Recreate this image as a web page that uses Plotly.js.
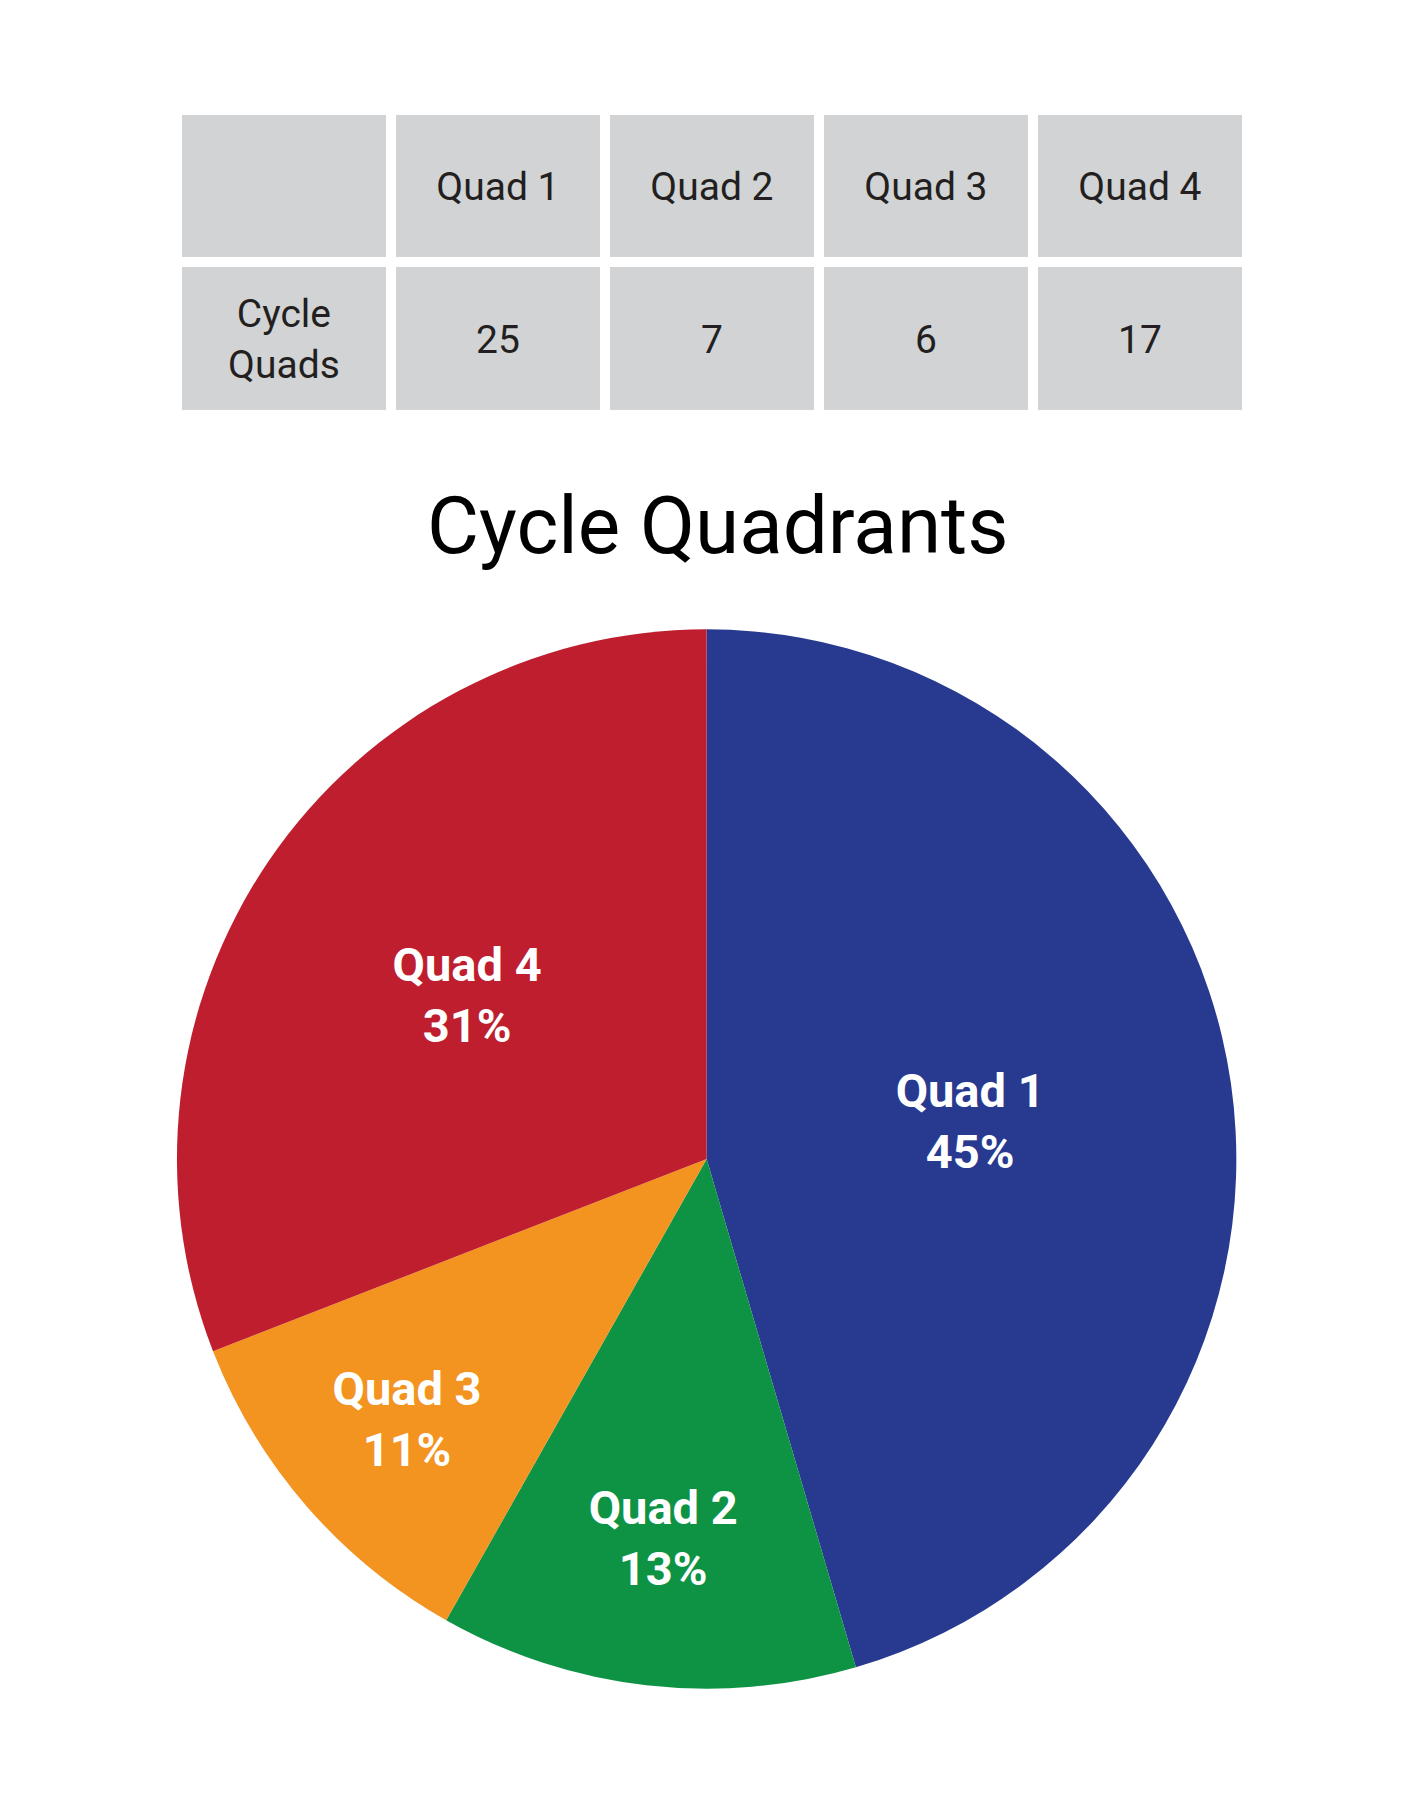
<!DOCTYPE html>
<html>
<head>
<meta charset="utf-8">
<script src="https://cdn.plot.ly/plotly-3.0.1.min.js"></script>
<style>
  html, body { margin: 0; padding: 0; background: #fff; }
  #chart { width: 1427px; height: 1799px; }
</style>
</head>
<body>
<div id="chart"></div>
<script>
// data
var quadNames = ['Quad 1', 'Quad 2', 'Quad 3', 'Quad 4'];
var quadCounts = [25, 7, 6, 17];
var rowLabel = 'Cycle<br>Quads';
var quadColors = ['#283a90', '#0e9345', '#f39320', '#be1e2d'];

// table grid: header row + value row, first column is the row label
var tableText = [
  [''].concat(quadNames),
  [rowLabel].concat(quadCounts.map(String))
];
var tableZ = tableText.map(function(row){ return row.map(function(){ return 1; }); });
var tableCols = [0, 1, 2, 3, 4];
var tableRows = [0, 1];

var tableTrace = {
  type: 'heatmap',
  x: tableCols,
  y: tableRows,
  z: tableZ,
  text: tableText,
  texttemplate: '%{text}',
  textfont: {family: 'Roboto', size: 39, color: '#231f20'},
  colorscale: [[0, '#d1d3d4'], [1, '#d1d3d4']],
  showscale: false,
  xgap: 10,
  ygap: 10,
  hoverinfo: 'skip',
  xaxis: 'x',
  yaxis: 'y'
};

var pieTrace = {
  type: 'pie',
  labels: quadNames,
  values: quadCounts,
  sort: false,
  direction: 'clockwise',
  rotation: 0,
  marker: {colors: quadColors, line: {width: 0}},
  texttemplate: '%{label}<br>%{percent:.0%}',
  textposition: 'inside',
  insidetextorientation: 'horizontal',
  insidetextfont: {family: 'Roboto', size: 47, color: '#ffffff', weight: 'bold'},
  hoverinfo: 'label+value+percent',
  showlegend: false,
  domain: {x: [0.124, 0.8664], y: [0.0613, 0.6502]}
};

var layout = {
  width: 1427,
  height: 1799,
  margin: {l: 0, r: 0, t: 0, b: 0},
  paper_bgcolor: '#ffffff',
  plot_bgcolor: '#ffffff',
  showlegend: false,
  title: {
    text: 'Cycle Quadrants',
    font: {family: 'Roboto', size: 80, color: '#000000'},
    x: 0.503, xanchor: 'center',
    y: 0.7081, yanchor: 'middle'
  },
  xaxis: {domain: [0.124, 0.8735], visible: false, fixedrange: true},
  yaxis: {domain: [0.7695, 0.9389], visible: false, autorange: 'reversed', fixedrange: true}
};

Plotly.newPlot('chart', [tableTrace, pieTrace], layout, {displayModeBar: false, staticPlot: true});
</script>
</body>
</html>
